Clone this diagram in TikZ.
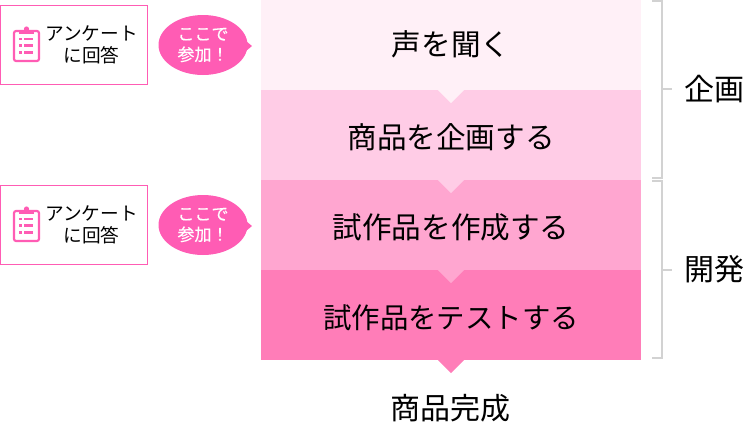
\documentclass[tikz,border=0pt]{standalone}
\usepackage{fontspec}
\setmainfont{Noto Sans CJK JP}
\newfontfamily\balloonfont[FakeBold=0.35]{Noto Sans CJK JP}
\usetikzlibrary{positioning}
\usetikzlibrary{shapes}
\definecolor{band_a}{HTML}{FFF0F7}
\definecolor{band_b}{HTML}{FFCCE6}
\definecolor{band_c}{HTML}{FFA6D0}
\definecolor{band_d}{HTML}{FF7DB8}
\definecolor{accent}{HTML}{FF5CB4}
\definecolor{bracket_gray}{HTML}{D2D2D2}
\tikzset{
        % Stacked process bands
        node_band/.style={align=center, inner sep=0pt, outer sep=0pt, minimum width=285pt, minimum height=67.5pt, text height=22pt, text depth=2.2pt, font=\fontsize{22.2pt}{24pt}\selectfont},
        % Survey boxes
        node_survey/.style={align=center, inner sep=0pt, outer sep=0pt, draw=accent, line width=0.75pt, fill=white, minimum width=110.25pt, minimum height=59.25pt},
        % Speech balloons
        node_balloon/.style={ellipse, align=center, inner sep=0pt, outer sep=0pt, fill=accent, text=white, minimum width=66.75pt, minimum height=45pt, font=\fontsize{12.75pt}{15.5pt}\selectfont\balloonfont},
        % Text of survey boxes
        node_survey_text/.style={align=center, inner sep=0pt, font=\fontsize{14pt}{16.5pt}\selectfont},
        % Side and final labels
        node_label/.style={inner sep=0pt, font=\fontsize{22.5pt}{24pt}\selectfont},
        % Side brackets
        bracket/.style={draw=bracket_gray, line width=1.1pt},
        % Clipboard icon
        clipboard/.pic={
            \draw[accent, line width=1.6pt, rounded corners=1.5pt, fill=white] (-12,-14) rectangle (13,16);
            \fill[accent] (-7,-14.5) rectangle (8,-11);
            \fill[accent] (0.5,-16) circle (2.6);
            \fill[accent] (-7,-7.5) rectangle (-4.5,-5);
            \fill[accent] (-2,-7.5) rectangle (7,-5);
            \fill[accent] (-7,-1) rectangle (-4.5,1.5);
            \fill[accent] (-2,-1) rectangle (7,1.5);
            \fill[accent] (-7,6) rectangle (-4.5,8.5);
            \fill[accent] (-2,6) rectangle (7,8.5);
        }
}
\begin{document}
\begin{tikzpicture}[x=0.75pt, y=-0.75pt]
    \useasboundingbox (0,0) rectangle (744,422);
    % bands
    \node[node_band, fill=band_a, anchor=north west, text height=20pt, text depth=4.2pt] (listen) at (261,0) {声を聞く};
    \node[node_band, fill=band_b, below=0pt of listen] (plan) {商品を企画する};
    \node[node_band, fill=band_c, below=0pt of plan] (prototype) {試作品を作成する};
    \node[node_band, fill=band_d, below=0pt of prototype, font=\fontsize{21.3pt}{24pt}\selectfont] (test) {試作品をテストする};
    \node[node_label, below=25.5pt of test.south, xshift=-0.75pt] (done) {商品完成};
    % arrows between bands
    \fill[band_a] (listen.south) ++(-13,0) -- ++(13,13) -- ++(13,-13) -- cycle;
    \fill[band_b] (plan.south) ++(-13,0) -- ++(13,13) -- ++(13,-13) -- cycle;
    \fill[band_c] (prototype.south) ++(-13,0) -- ++(13,13) -- ++(13,-13) -- cycle;
    \fill[band_d] (test.south) ++(-13,0) -- ++(13,13) -- ++(13,-13) -- cycle;
    % survey boxes
    \node[node_survey, anchor=north west] (survey_a) at (0.5,5.5) {};
    \node[node_survey, anchor=north west] (survey_b) at (0.5,185.5) {};
    \pic at (26,45) {clipboard};
    \pic at (26,225) {clipboard};
    \node[node_survey_text] (survey_text_a) at (91.5,44.5) {アンケート\\に回答};
    \node[node_survey_text] (survey_text_b) at (91.5,224.5) {アンケート\\に回答};
    % balloons
    \fill[accent] (240,36) -- (252,46) -- (240,56) -- cycle;
    \fill[accent] (240,216) -- (252,226) -- (240,236) -- cycle;
    \node[node_balloon] (balloon_a) at (203,45) {ここで\\参加！};
    \node[node_balloon] (balloon_b) at (203,225) {ここで\\参加！};
    % brackets
    \node[node_label] (label_plan) at (714.5,89) {企画};
    \node[node_label] (label_dev) at (714.5,269) {開発};
    \draw[bracket] (652,1) -- (662,1) -- (662,178) -- (652,178);
    \draw[bracket] (652,181) -- (662,181) -- (662,358) -- (652,358);
    \draw[bracket] (662,89) -- (672,89);
    \draw[bracket] (662,270) -- (672,270);
\end{tikzpicture}
\end{document}
